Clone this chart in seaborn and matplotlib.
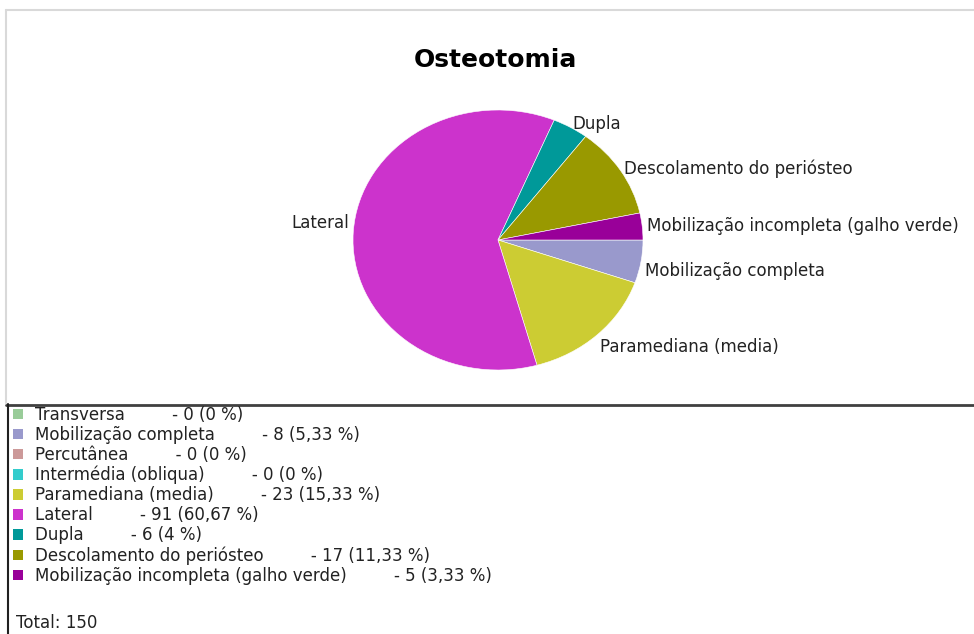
import matplotlib
matplotlib.use('Agg')
import matplotlib.pyplot as plt
import seaborn as sns
import pandas as pd
from matplotlib.patches import Patch
from matplotlib.lines import Line2D

# dados (ordem da legenda)
categorias = ['Transversa', 'Mobilização completa', 'Percutânea', 'Intermédia (obliqua)',
              'Paramediana (media)', 'Lateral', 'Dupla', 'Descolamento do periósteo',
              'Mobilização incompleta (galho verde)']
valores = [0, 8, 0, 0, 23, 91, 6, 17, 5]
cores = ['#99cc99', '#9999cc', '#cc9999', '#33cccc', '#cccc33',
         '#cc33cc', '#009999', '#999900', '#990099']
titulo = 'Osteotomia'

df = pd.DataFrame({'cat': categorias, 'val': valores, 'cor': cores})
total = df['val'].sum()
df['pct'] = df['val'] / total * 100

sns.set_theme(style="white")
plt.rcParams['font.family'] = ['DejaVu Sans']

W, H = 974, 634
fig = plt.figure(figsize=(W / 100, H / 100), dpi=100)
fig.patch.set_facecolor('white')

def fx(px):
    return px / W

def fy(py):
    return 1 - py / H

FS = 12

# pizza levemente eliptica, como no original
ax = fig.add_axes([fx(353), fy(370), fx(290), 260 / H])
nz = df[df['val'] > 0]
wedges, texts = ax.pie(nz['val'], labels=nz['cat'], colors=nz['cor'],
                       startangle=0, counterclock=False, labeldistance=1.03,
                       wedgeprops={'linewidth': 0.4, 'edgecolor': 'white'},
                       textprops={'fontsize': FS, 'color': '#222222'})
ax.set_aspect('auto')
ax.set_xlim(-1, 1)
ax.set_ylim(-1, 1)
ax.axis('off')
for t in texts:
    x, y = t.get_position()
    if y < -0.05:
        t.set_va('top')
    elif x < 0:
        t.set_va('bottom')
    else:
        t.set_va('center')

fig.text(fx(495), fy(60), titulo, ha='center', va='center',
         fontsize=18, fontweight='bold', color='black')

# molduras
fig.add_artist(Line2D([fx(6), 1], [fy(10), fy(10)], color='#d9d9d9', lw=1.5))
fig.add_artist(Line2D([fx(6), fx(6)], [fy(10), fy(403)], color='#d9d9d9', lw=1.5))
fig.add_artist(Line2D([fx(6), 1], [fy(404.5), fy(404.5)], color='#404040', lw=2))
fig.add_artist(Line2D([fx(7.5), fx(7.5)], [fy(404), 0], color='#202020', lw=1.5))

# legenda
def fmt(p):
    s = ('%.2f' % p).rstrip('0').rstrip('.')
    return s.replace('.', ',')

gap = ' ' * 9
handles = [Patch(facecolor=c, edgecolor='none') for c in df['cor']]
labels = [f"{c}{gap}- {v} ({fmt(p)} %)" for c, v, p in zip(df['cat'], df['val'], df['pct'])]
fig.legend(handles, labels, loc='upper left', bbox_to_anchor=(fx(8), fy(401)),
           frameon=False, fontsize=FS, handlelength=0.6, handleheight=0.6,
           handletextpad=0.72, labelspacing=0.12, borderaxespad=0, borderpad=0.3,
           labelcolor='#222222')

fig.text(fx(16), fy(623), f'Total: {total}', ha='left', va='center',
         fontsize=FS, color='#222222')

fig.savefig('out.png', dpi=100)
